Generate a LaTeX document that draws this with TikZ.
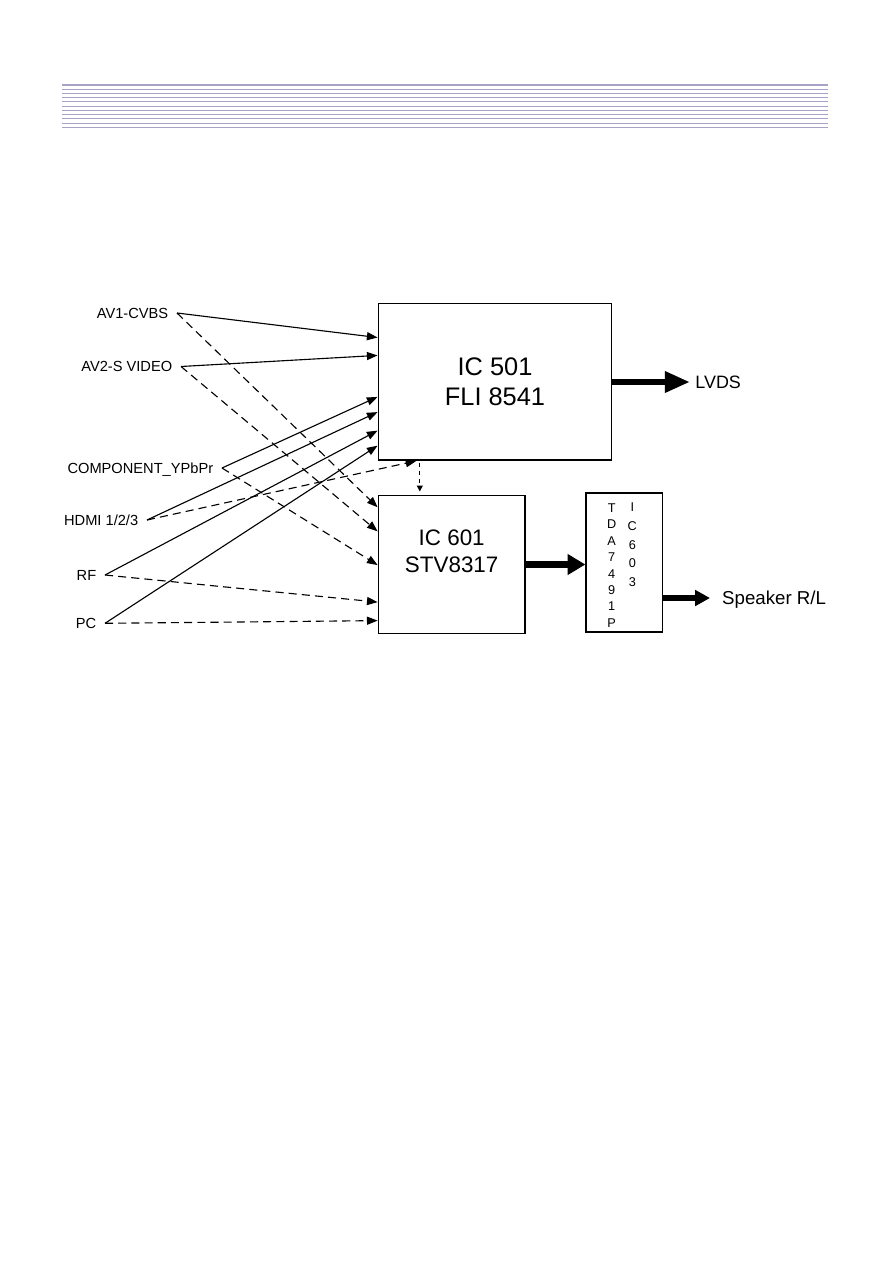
\documentclass[tikz,border=0pt]{standalone}
\usepackage{fontspec}
\setmainfont{Liberation Sans}
\usetikzlibrary{arrows.meta,calc}

\definecolor{rulecol}{RGB}{168,163,196}

\begin{document}
\begin{tikzpicture}[x=0.2352mm,y=-0.2352mm,>={Triangle[length=2.5mm,width=1.9mm]},
  chip/.style={draw=black,line width=1pt,inner sep=0pt},
  src/.style={anchor=east,inner xsep=2mm,inner ysep=0pt,text depth=0pt,font=\fontsize{9.8}{11}\selectfont},
  pins/.style={inner sep=0pt,align=center,font=\fontsize{8.5}{11}\selectfont},
  feed/.style={line width=0.75pt,->},
  feeddash/.style={feed,dash pattern=on 1.9mm off 1.2mm},
  bus/.style={line width=1.5mm}]
\useasboundingbox (0,0) rectangle (893,1263);
% header rules
\draw[rulecol,line width=1.1pt] (62,85) -- (828,85);
\foreach \i in {1,...,10}
  \draw[rulecol,line width=0.6pt] (62,85+\i*4.22) -- (828,85+\i*4.22);
% processors
\node[chip,minimum width=54.9mm,minimum height=36.9mm,align=center,font=\fontsize{17}{20.4}\selectfont] (ic501) at (495,381.7) {IC 501\\FLI 8541};
\node[chip,minimum width=34.5mm,minimum height=32.4mm,label={[name=ic601txt,align=center,font=\fontsize{15}{18.2}\selectfont,yshift=3.2mm]center:IC 601\\STV8317}] (ic601) at (451.7,564.5) {};
\node[chip,minimum width=17.9mm,minimum height=32.6mm] (tda) at (624.2,562.5) {};
\node[pins] (tdaname) at (611.7,565.5) {T\\D\\A\\7\\4\\9\\1\\P};
\node[pins,font=\fontsize{8.5}{12.4}\selectfont] (tdaref) at (632.3,544.7) {I\\C\\6\\0\\3};
% outputs
\node[anchor=west,inner xsep=1.2mm,font=\fontsize{12}{14}\selectfont] (lvds) at (690,382) {LVDS};
\node[anchor=west,inner xsep=2.8mm,text depth=0pt,font=\fontsize{12.5}{15}\selectfont] (spk) at (710,598) {Speaker R/L};
% sources
\node[src] (av1) at (177,313) {AV1-CVBS};
\node[src] (av2) at (181,366.5) {AV2-S VIDEO};
\node[src] (comp) at (222,468) {COMPONENT\_YPbPr};
\node[src] (hdmi) at (147,520) {HDMI 1/2/3};
\node[src] (rf) at (105,575) {RF};
\node[src] (pc) at (105,623.3) {PC};
% into IC 501
\draw[feed] (av1.east) -- ($(ic501.north west)!0.221!(ic501.south west)$);
\draw[feed] (av2.east) -- ($(ic501.north west)!0.334!(ic501.south west)$);
\draw[feed] (comp.east) -- ($(ic501.north west)!0.596!(ic501.south west)$);
\draw[feed] (hdmi.east) -- ($(ic501.north west)!0.692!(ic501.south west)$);
\draw[feed] (rf.east) -- ($(ic501.north west)!0.809!(ic501.south west)$);
\draw[feed] (pc.east) -- ($(ic501.north west)!0.904!(ic501.south west)$);
% into IC 601
\draw[feeddash] (av1.east) -- ($(ic601.north west)!0.089!(ic601.south west)$);
\draw[feeddash] (av2.east) -- ($(ic601.north west)!0.262!(ic601.south west)$);
\draw[feeddash] (comp.east) -- ($(ic601.north west)!0.504!(ic601.south west)$);
\draw[feeddash] (rf.east) -- ($(ic601.north west)!0.770!(ic601.south west)$);
\draw[feeddash] (pc.east) -- ($(ic601.north west)!0.903!(ic601.south west)$);
\draw[feeddash] (hdmi.east) -- ($(ic501.south west)!0.165!(ic501.south east)$);
% IC 501 to IC 601
\coordinate (tap) at ($(ic501.south west)!0.18!(ic501.south east)$);
\draw[line width=0.7pt,dash pattern=on 1mm off 0.9mm,-{Triangle[length=1.4mm,width=1.4mm]},shorten <=0.4mm,shorten >=0.8mm] (tap) -- (tap |- ic601.north);
% buses
\draw[bus,-{Triangle[length=5.9mm,width=4.7mm]}] (ic501.east |- lvds.west) -- (lvds.west);
\draw[bus,-{Triangle[length=4.2mm,width=4.7mm]}] (ic601.east) -- (tda.west |- ic601.east);
\draw[bus,-{Triangle[length=3.5mm,width=3.6mm]}] (tda.east |- spk.west) -- (spk.west);
\end{tikzpicture}
\end{document}
